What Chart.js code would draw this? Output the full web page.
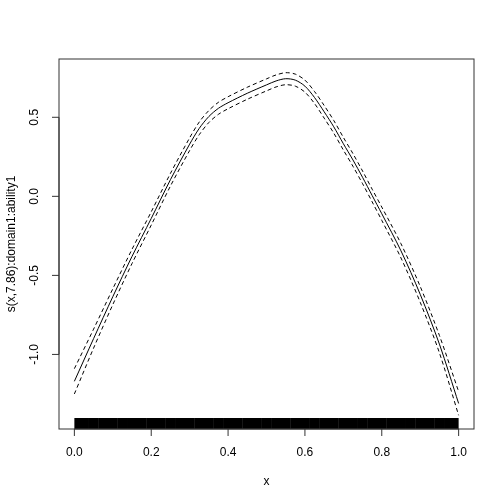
<!DOCTYPE html>
<html>
<head>
<meta charset="utf-8">
<script src="https://cdn.jsdelivr.net/npm/chart.js@4/dist/chart.umd.min.js"></script>
<style>
  html, body { margin: 0; padding: 0; background: #fff; }
  #wrap { width: 504px; height: 504px; }
</style>
</head>
<body>
<div id="wrap"><canvas id="plot" width="504" height="504"></canvas></div>
<script>
// valori (smooth + intervallo di confidenza)
const xs    = [0, 0.05, 0.1, 0.15, 0.2, 0.25, 0.3, 0.325, 0.35, 0.375, 0.4, 0.45, 0.5, 0.525, 0.55, 0.575, 0.6, 0.625, 0.65, 0.675, 0.7, 0.725, 0.75, 0.775, 0.8, 0.85, 0.9, 0.95, 1];
const fit   = [-1.17, -0.90, -0.635, -0.38, -0.14, 0.105, 0.33, 0.43, 0.505, 0.557, 0.592, 0.652, 0.705, 0.73, 0.744, 0.735, 0.697, 0.625, 0.535, 0.44, 0.333, 0.23, 0.12, 0.005, -0.11, -0.345, -0.62, -0.935, -1.31];
const upper = [-1.09, -0.84, -0.585, -0.335, -0.098, 0.145, 0.37, 0.47, 0.543, 0.595, 0.630, 0.690, 0.743, 0.768, 0.782, 0.773, 0.735, 0.663, 0.575, 0.48, 0.373, 0.27, 0.16, 0.045, -0.068, -0.30, -0.57, -0.88, -1.235];
const lower = [-1.25, -0.96, -0.685, -0.425, -0.182, 0.065, 0.29, 0.39, 0.467, 0.519, 0.554, 0.614, 0.667, 0.692, 0.706, 0.697, 0.659, 0.587, 0.495, 0.40, 0.293, 0.19, 0.08, -0.035, -0.152, -0.39, -0.67, -0.99, -1.385];

// osservazioni per il rug (molto fitte, sembrano una banda nera)
const rugX = [0, 0.025, 0.05, 0.075, 0.1, 0.125, 0.15, 0.175, 0.2, 0.225, 0.25, 0.275, 0.3, 0.325, 0.35, 0.375, 0.4, 0.425, 0.45, 0.475, 0.5,
              0.525, 0.55, 0.575, 0.6, 0.625, 0.65, 0.675, 0.7, 0.725, 0.75, 0.775, 0.8, 0.825, 0.85, 0.875, 0.9, 0.925, 0.95, 0.975, 1];

const xTicks = [0, 0.2, 0.4, 0.6, 0.8, 1.0];
const xTickLabels = ['0.0', '0.2', '0.4', '0.6', '0.8', '1.0'];
const yTicks = [-1.0, -0.5, 0.0, 0.5];
const yTickLabels = ['-1.0', '-0.5', '0.0', '0.5'];
const xTitle = 'x';
const yTitle = 's(x,7.86):domain1:ability1';

// limiti come fa R (estensione del 4%)
function rRange(lo, hi) {
  let d = (hi - lo) * 0.04;
  return [lo - d, hi + d];
}
const xLim = rRange(Math.min(...xs), Math.max(...xs));
const yLim = rRange(Math.min(...lower), Math.max(...upper));

function pts(ys) {
  return xs.map((x, i) => ({ x: x, y: ys[i] }));
}

const FONT = '12px "Liberation Sans", Arial, Helvetica, sans-serif';

// PLUGIN CHE DISEGNA BOX, ASSI, ETICHETTE E RUG ALLA MANIERA DI R
const rAxes = {
  id: 'rAxes',
  afterDatasetsDraw(chart) {
    const ctx = chart.ctx;
    const a = chart.chartArea;
    const sx = chart.scales.x;
    const sy = chart.scales.y;
    ctx.save();

    // rug
    let x0 = sx.getPixelForValue(Math.min(...rugX));
    let x1 = sx.getPixelForValue(Math.max(...rugX));
    ctx.save();
    ctx.beginPath();
    ctx.rect(x0, a.top, x1 - x0, a.bottom - a.top);
    ctx.clip();
    ctx.strokeStyle = '#000';
    ctx.lineWidth = 10;
    rugX.forEach(v => {
      let p = sx.getPixelForValue(v);
      ctx.beginPath();
      ctx.moveTo(p, a.bottom);
      ctx.lineTo(p, a.bottom - 11);
      ctx.stroke();
    });
    ctx.restore();

    // box
    ctx.strokeStyle = '#333';
    ctx.lineWidth = 1;
    ctx.strokeRect(a.left, a.top, a.right - a.left, a.bottom - a.top);

    ctx.fillStyle = '#000';
    ctx.font = FONT;

    // asse x
    let xa = sx.getPixelForValue(xTicks[0]);
    let xb = sx.getPixelForValue(xTicks[xTicks.length - 1]);
    ctx.beginPath();
    ctx.moveTo(xa, a.bottom);
    ctx.lineTo(xb, a.bottom);
    xTicks.forEach(t => {
      let p = sx.getPixelForValue(t);
      ctx.moveTo(p, a.bottom);
      ctx.lineTo(p, a.bottom + 7);
    });
    ctx.stroke();
    ctx.textAlign = 'center';
    ctx.textBaseline = 'middle';
    xTicks.forEach((t, i) => {
      ctx.fillText(xTickLabels[i], sx.getPixelForValue(t), a.bottom + 24);
    });
    ctx.fillText(xTitle, (a.left + a.right) / 2, a.bottom + 53);

    // asse y
    let ya = sy.getPixelForValue(yTicks[0]);
    let yb = sy.getPixelForValue(yTicks[yTicks.length - 1]);
    ctx.beginPath();
    ctx.moveTo(a.left, ya);
    ctx.lineTo(a.left, yb);
    yTicks.forEach(t => {
      let p = sy.getPixelForValue(t);
      ctx.moveTo(a.left, p);
      ctx.lineTo(a.left - 7, p);
    });
    ctx.stroke();
    yTicks.forEach((t, i) => {
      ctx.save();
      ctx.translate(a.left - 24, sy.getPixelForValue(t));
      ctx.rotate(-Math.PI / 2);
      ctx.fillText(yTickLabels[i], 0, 0);
      ctx.restore();
    });
    ctx.save();
    ctx.translate(a.left - 47, (a.top + a.bottom) / 2);
    ctx.rotate(-Math.PI / 2);
    ctx.fillText(yTitle, 0, 0);
    ctx.restore();

    ctx.restore();
  }
};

let ctx = document.querySelector('#plot');

const myChart = new Chart(ctx, {
  type: 'line',
  data: {
    datasets: [{
      label: 'fit',
      data: pts(fit),
      borderColor: '#000',
      borderWidth: 1,
    }, {
      label: 'upper',
      data: pts(upper),
      borderColor: '#000',
      borderWidth: 1,
      borderDash: [4, 3],
    }, {
      label: 'lower',
      data: pts(lower),
      borderColor: '#000',
      borderWidth: 1,
      borderDash: [4, 3],
    }],
  },
  options: {
    responsive: false,
    animation: false,
    devicePixelRatio: 1,
    layout: { padding: { left: 59, right: 30, top: 59, bottom: 75 } },
    elements: {
      point: { radius: 0 },
      line: { tension: 0.3 }
    },
    plugins: {
      legend: { display: false },
      tooltip: { enabled: false }
    },
    scales: {
      x: { type: 'linear', min: xLim[0], max: xLim[1], display: false },
      y: { type: 'linear', min: yLim[0], max: yLim[1], display: false }
    }
  },
  plugins: [rAxes]
});
</script>
</body>
</html>
